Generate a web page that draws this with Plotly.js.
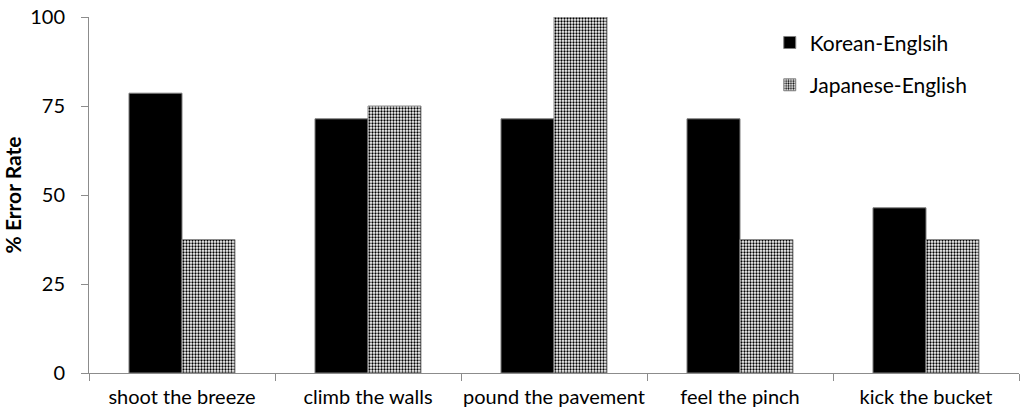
<!DOCTYPE html>
<html>
<head>
<meta charset="utf-8">
<script src="https://cdn.plot.ly/plotly-3.0.1.min.js"></script>
<style>
  html, body { margin: 0; padding: 0; background: #fff; }
  #chart { width: 1024px; height: 415px; }
</style>
</head>
<body>
<div id="chart"></div>
<script>
// chart data
const idioms = [
  "shoot the breeze",
  "climb the walls",
  "pound the pavement",
  "feel the pinch",
  "kick the bucket",
];
const koreanEnglish = [78.6, 71.4, 71.4, 71.4, 46.4];
const japaneseEnglish = [37.5, 75, 100, 37.5, 37.5];
const yTicks = [0, 25, 50, 75, 100];

const fontFamily = "Lato, 'Open Sans', sans-serif";
const textColor = "#000";
const axisColor = "#8c8c8c";

const koreanTrace = {
  type: "bar",
  name: "Korean-Englsih",
  x: idioms,
  y: koreanEnglish,
  legendgroup: "k",
  marker: {
    color: "#000",
    line: { color: "#7f7f7f", width: 1 },
  },
  hoverinfo: "x+y",
};

const japaneseTrace = {
  type: "bar",
  name: "Japanese-English",
  x: idioms,
  y: japaneseEnglish,
  legendgroup: "j",
  marker: {
    color: "#ffffff",
    line: { color: "#8a8a8a", width: 1 },
    pattern: {
      shape: ".",
      fgcolor: "#000",
      bgcolor: "#ffffff",
      size: 3,
      solidity: 0.45,
    },
  },
  hoverinfo: "x+y",
};

const layout = {
  width: 1024,
  height: 415,
  paper_bgcolor: "#fff",
  plot_bgcolor: "#fff",
  margin: { l: 89, r: 5, t: 17, b: 42 },
  barmode: "group",
  bargap: 0.43,
  bargroupgap: 0,
  font: { family: fontFamily, color: textColor, size: 20 },
  showlegend: true,
  legend: {
    x: 0.732,
    y: 0.985,
    xanchor: "left",
    yanchor: "top",
    bgcolor: "rgba(0,0,0,0)",
    font: { family: fontFamily, size: 21, color: textColor },
    traceorder: "grouped",
    tracegroupgap: 12,
    itemwidth: 30,
  },
  xaxis: {
    type: "category",
    showline: true,
    linecolor: axisColor,
    linewidth: 1,
    ticks: "outside",
    tickson: "boundaries",
    ticklen: 7,
    tickcolor: axisColor,
    tickangle: 0,
    showgrid: false,
    zeroline: false,
    tickfont: { family: fontFamily, size: 20, color: textColor },
    ticklabelstandoff: 6,
    fixedrange: true,
  },
  yaxis: {
    range: [0, 100],
    tickvals: yTicks,
    ticktext: yTicks.map(String),
    showline: true,
    linecolor: axisColor,
    linewidth: 1,
    ticks: "outside",
    ticklen: 7,
    tickcolor: axisColor,
    showgrid: false,
    zeroline: false,
    tickfont: { family: fontFamily, size: 20, color: textColor },
    ticklabelstandoff: 12,
    title: {
      text: "<b>% Error Rate</b>",
      font: { family: fontFamily, size: 21, color: textColor },
      standoff: 10,
    },
    fixedrange: true,
  },
};

const config = { displayModeBar: false };

Plotly.newPlot("chart", [koreanTrace, japaneseTrace], layout, config);
</script>
</body>
</html>
